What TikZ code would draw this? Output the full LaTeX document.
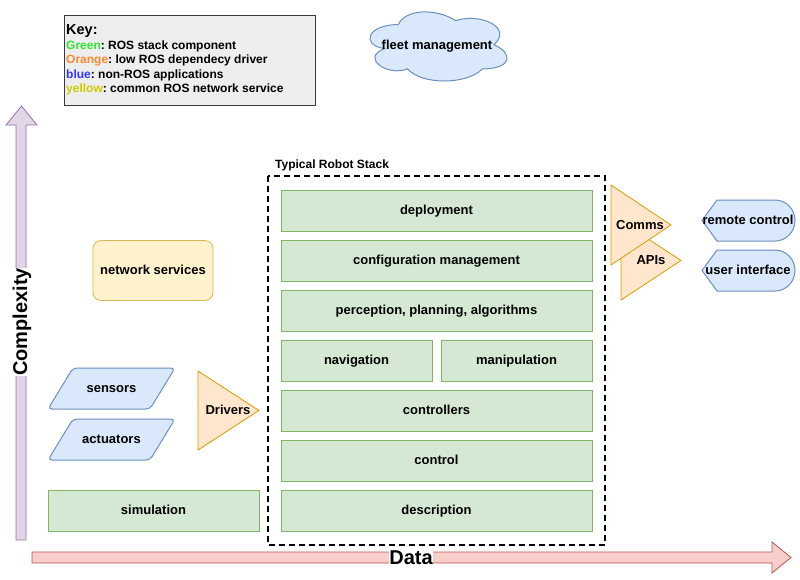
\documentclass[tikz,border=0pt]{standalone}
\usepackage{fontspec}
\setmainfont{Liberation Sans}
\usetikzlibrary{shapes.geometric, positioning}

\definecolor{greenfill}{HTML}{D5E8D4}
\definecolor{greendraw}{HTML}{82B366}
\definecolor{bluefill}{HTML}{DAE8FC}
\definecolor{bluedraw}{HTML}{6C8EBF}
\definecolor{orangefill}{HTML}{FFE6CC}
\definecolor{orangedraw}{HTML}{D79B00}
\definecolor{yellowfill}{HTML}{FFF2CC}
\definecolor{yellowdraw}{HTML}{D6B656}
\definecolor{purplefill}{HTML}{E1D5E7}
\definecolor{purpledraw}{HTML}{9673A6}
\definecolor{redfill}{HTML}{F8CECC}
\definecolor{reddraw}{HTML}{B85450}
\definecolor{keyfill}{HTML}{EEEEEE}
\definecolor{keydraw}{HTML}{36393D}
\definecolor{keygreen}{HTML}{33E633}
\definecolor{keyorange}{HTML}{FF8833}
\definecolor{keyblue}{HTML}{3333FF}
\definecolor{keyyellow}{HTML}{CCCC00}

\begin{document}
\begin{tikzpicture}[
  x=1pt, y=-1pt,
  shapetext/.style={font=\bfseries\fontsize{13}{15}\selectfont, inner sep=0pt,
                    text height=8pt, text depth=0pt},
  stackbox/.style={shapetext, draw=greendraw, fill=greenfill, line width=0.8pt,
                   minimum height=41pt, text centered},
  bluebox/.style={draw=bluedraw, fill=bluefill, line width=1pt},
  driver/.style={draw=orangedraw, fill=orangefill, line width=0.8pt},
  axistext/.style={font=\bfseries\fontsize{20}{22}\selectfont, fill=white, inner sep=0.5pt},
]
  \useasboundingbox (0,0) rectangle (800,579);

  % key
  \node[draw=keydraw, fill=keyfill, line width=0.8pt, minimum width=251pt, minimum height=90pt,
        anchor=north west, inner sep=0pt] (key) at (64,15) {};
  \node[align=left, anchor=north west, inner sep=0pt,
        font=\bfseries\fontsize{12}{14.5}\selectfont\frenchspacing] (keytext) at (66,24.5)
    {{\fontsize{14.5}{16}\selectfont Key:}\\
     \textcolor{keygreen}{Green}: ROS stack component\\
     \textcolor{keyorange}{Orange}: low ROS dependecy driver\\
     \textcolor{keyblue}{blue}: non-ROS applications\\
     \textcolor{keyyellow}{yellow}: common ROS network service};

  % fleet
  \begin{scope}[shift={(360,4.4)}, x=153pt, y=-80.6pt]
    \draw[bluebox] (0.25,0.25) .. controls (0.05,0.25) and (0,0.5) .. (0.16,0.55)
      .. controls (0,0.66) and (0.18,0.9) .. (0.31,0.8)
      .. controls (0.4,1) and (0.7,1) .. (0.8,0.8)
      .. controls (1,0.8) and (1,0.6) .. (0.875,0.5)
      .. controls (1,0.3) and (0.8,0.1) .. (0.625,0.2)
      .. controls (0.5,0.05) and (0.3,0.05) .. (0.25,0.25) -- cycle;
  \end{scope}
  \node[shapetext] (fleet) at (437,45.5) {fleet management};

  % axes
  \draw[fill=purplefill, draw=purpledraw, line width=0.8pt]
    (16,540) -- (16,125) -- (6,125) -- (21.5,106) -- (37,125) -- (26,125) -- (26,540) -- cycle;
  \draw[fill=redfill, draw=reddraw, line width=0.8pt]
    (32,552) -- (772,552) -- (772,542) -- (791,557.5) -- (772,573) -- (772,563) -- (32,563) -- cycle;
  \node[axistext, rotate=90] (complexity) at (22,322) {Complexity};
  \node[axistext] (data) at (411,558) {Data};

  % robot stack
  \node[font=\bfseries\fontsize{12}{14}\selectfont, anchor=west, inner sep=0pt] (stacktitle) at (275,165) {Typical Robot Stack};
  \draw[line width=1.6pt, dash pattern=on 6pt off 4pt] (268,176) rectangle (605,545);

  \node[stackbox, minimum width=311pt] (deploy) at (436.5,210.5) {deployment};
  \node[stackbox, minimum width=311pt] (config) at (436.5,260.5) {configuration management};
  \node[stackbox, minimum width=311pt] (percep) at (436.5,310.5) {perception, planning, algorithms};
  \node[stackbox, minimum width=151pt] (nav)    at (356.5,360.5) {navigation};
  \node[stackbox, minimum width=151pt] (manip)  at (516.5,360.5) {manipulation};
  \node[stackbox, minimum width=311pt] (ctrls)  at (436.5,410.5) {controllers};
  \node[stackbox, minimum width=311pt] (ctrl)   at (436.5,460.5) {control};
  \node[stackbox, minimum width=311pt] (desc)   at (436.5,510.5) {description};
  \node[stackbox, minimum width=211pt] (sim)    at (153.5,510.5) {simulation};

  % network services
  \node[shapetext, draw=yellowdraw, fill=yellowfill, line width=0.8pt, rounded corners=8pt,
        minimum width=120pt, minimum height=60pt] (netserv) at (153,270.5) {network services};

  % sensors and actuators
  \draw[bluebox, rounded corners=4pt] (73,368) -- (175,368) -- (150,409) -- (48,409) -- cycle;
  \node[shapetext] (sensors) at (111.5,388.5) {sensors};
  \draw[bluebox, rounded corners=4pt] (73,419) -- (175,419) -- (150,460) -- (48,460) -- cycle;
  \node[shapetext] (actuators) at (111.5,439.5) {actuators};

  % drivers
  \draw[driver] (198,371) -- (259,410.5) -- (198,450) -- cycle;
  \node[shapetext] (drivers) at (228,410.5) {Drivers};

  % comms and apis
  \draw[driver] (621,221) -- (681,260.5) -- (621,300) -- cycle;
  \node[shapetext] (apis) at (651,260.5) {APIs};
  \draw[driver] (611,185) -- (671,225) -- (611,265) -- cycle;
  \node[shapetext] (comms) at (640,225) {Comms};

  % user facing
  \draw[bluebox] (717,200) -- (775,200) arc[start angle=-90, end angle=90, x radius=20, y radius=20.5]
    -- (717,241) -- (702,220.5) -- cycle;
  \node[shapetext] (remote) at (748,220.5) {remote control};
  \draw[bluebox] (717,250) -- (775,250) arc[start angle=-90, end angle=90, x radius=20, y radius=20.5]
    -- (717,291) -- (702,270.5) -- cycle;
  \node[shapetext] (ui) at (748,270.5) {user interface};
\end{tikzpicture}
\end{document}
